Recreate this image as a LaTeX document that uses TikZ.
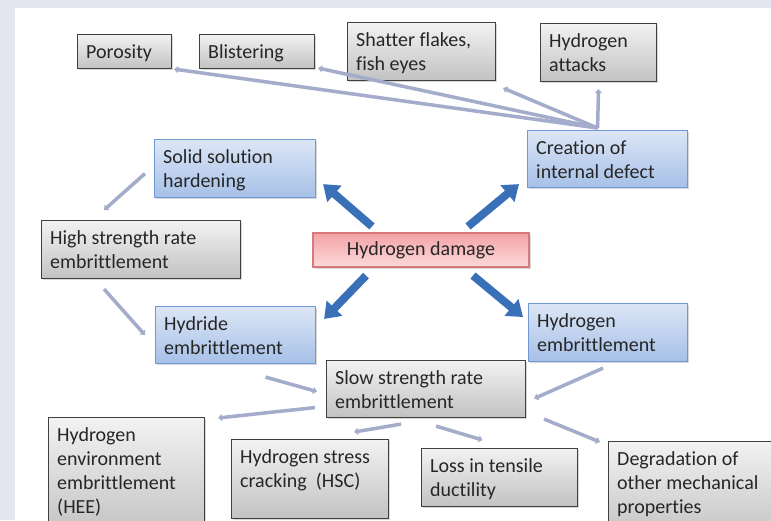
\documentclass[tikz,border=0pt]{standalone}
\usepackage{fontspec}
\setmainfont{Carlito}[Ligatures={NoCommon},Contextuals={NoAlternate}]
\usetikzlibrary{arrows.meta,calc,shadows}
\definecolor{bgband}{HTML}{E4E7F1}
\definecolor{gborder}{HTML}{404040}
\definecolor{gtop}{HTML}{F2F2F2}
\definecolor{gbot}{HTML}{C2C2C2}
\definecolor{bborder}{HTML}{7198D2}
\definecolor{btop}{HTML}{DCE6F6}
\definecolor{bbot}{HTML}{A6C0E7}
\definecolor{rborder}{HTML}{D8797C}
\definecolor{rtop}{HTML}{F3A2A6}
\definecolor{rbot}{HTML}{FCDADA}
\definecolor{txtcol}{HTML}{262626}
\definecolor{thincol}{HTML}{A3ACCB}
\definecolor{thickcol}{HTML}{3A70B8}
\tikzset{
  boxbase/.style={rectangle, line width=1.1pt, inner sep=0pt,
    drop shadow={opacity=0.3, shadow xshift=1.5pt, shadow yshift=-1.5pt}},
  gbox/.style={boxbase, draw=gborder, top color=gtop, bottom color=gbot},
  bbox/.style={boxbase, draw=bborder, top color=btop, bottom color=bbot},
  rbox/.style={boxbase, draw=rborder, top color=rtop, bottom color=rbot},
  txt/.style={inner sep=0pt, align=left, font=\fontsize{20}{24}\selectfont, text=txtcol},
  thinarr/.style={draw=thincol, line width=3.5pt, -{Triangle[width=7pt,length=4pt]}},
  bigarr/.style={draw=thickcol, fill=thickcol, line width=8pt, -{Triangle[width=21pt,length=15pt]}},
}
\newcommand\mkbox[7]{%
  \node[#1, anchor=north west, minimum width=#5pt, minimum height=#6pt] (#2) at (#3,#4) {};
  \node[txt, anchor=north west] at ($(#2.north west)+(9,7.2)$) {\strut #7};
}
\begin{document}
\begin{tikzpicture}[x=1pt,y=-1pt]
\useasboundingbox (0,0) rectangle (771,520);
\clip (0,0) rectangle (771,520);
\fill[bgband] (0,0) rectangle (771,520);
\fill[white] (15,8) rectangle (771,520);

\mkbox{gbox}{por}{77}{34}{94}{34}{Porosity}
\mkbox{gbox}{bli}{199}{34}{115}{34}{Blistering}
\mkbox{gbox}{sha}{347}{22}{148}{58}{Shatter flakes,\\fish eyes}
\mkbox{gbox}{att}{540}{23}{116}{58}{Hydrogen\\attacks}
\mkbox{bbox}{cre}{527}{130}{160}{57}{Creation of\\internal defect}
\mkbox{bbox}{ssh}{154}{139}{161}{58}{Solid solution\\hardening}
\mkbox{gbox}{hsr}{41}{220}{199}{58}{High strength rate\\embrittlement}
\node[rbox, minimum width=216pt, minimum height=34pt, font=\fontsize{20}{24}\selectfont, text=txtcol] (dmg) at (421,250) {Hydrogen damage};
\mkbox{bbox}{hyd}{155}{306}{160}{57}{Hydride\\embrittlement}
\mkbox{bbox}{hem}{528}{303}{159}{58}{Hydrogen\\embrittlement}
\mkbox{gbox}{slo}{326}{360}{199}{57}{Slow strength rate\\embrittlement}
\mkbox{gbox}{hee}{48}{417}{156}{120}{Hydrogen\\environment\\embrittlement\\(HEE)}
\mkbox{gbox}{hsc}{231}{439}{157}{79}{Hydrogen stress\\cracking~~(HSC)}
\mkbox{gbox}{los}{421}{448}{156}{58}{Loss in tensile\\ductility}
\mkbox{gbox}{deg}{608}{441}{175}{100}{Degradation of\\other mechanical\\properties}

% thin connectors from Creation of internal defect
\coordinate (hub) at ($(cre.north)+(-10,-2)$);
\draw[thinarr] (hub) -- ($(por.south east)+(2,0)$);
\draw[thinarr] (hub) -- ($(bli.south east)+(3,-1)$);
\draw[thinarr] (hub) -- ($(sha.south east)+(7,7)$);
\draw[thinarr] (hub) -- ($(att.south)+(0,7)$);

% thin connectors on the left
\draw[thinarr] ($(ssh.west)+(-9,5)$) -- ($(hsr.north)+(-37,-10)$);
\draw[thinarr] ($(hsr.south)+(-37,10)$) -- ($(hyd.west)+(-10,0)$);
\draw[thinarr] ($(hyd.south)+(30,13)$) -- ($(slo.west)+(-9,2.5)$);
\draw[thinarr] ($(hem.south)+(-5,6)$) -- ($(slo.east)+(8,9.5)$);

% thin connectors from Slow strength rate embrittlement
\draw[thinarr] ($(slo.west)+(-11,18.5)$) -- ($(hee.north east)+(13,1)$);
\draw[thinarr] ($(slo.south)+(-25,6)$) -- ($(hsc.north east)+(-35,-7)$);
\draw[thinarr] ($(slo.south)+(10,8)$) -- ($(los.north)+(-17,-8)$);
\draw[thinarr] ($(slo.south east)+(18,1)$) -- ($(deg.north west)+(-8,1)$);

% thick arrows from Hydrogen damage
\draw[bigarr] ($(dmg.north)+(-49,-6)$) -- ($(ssh.south east)+(7,-14)$);
\draw[bigarr] ($(dmg.north)+(47,-6)$) -- ($(cre.south west)+(-8,-4)$);
\draw[bigarr] ($(dmg.south)+(-55,8)$) -- ($(hyd.north east)+(8,13)$);
\draw[bigarr] ($(dmg.south)+(52,8)$) -- ($(hem.north west)+(-5,14)$);
\end{tikzpicture}
\end{document}
